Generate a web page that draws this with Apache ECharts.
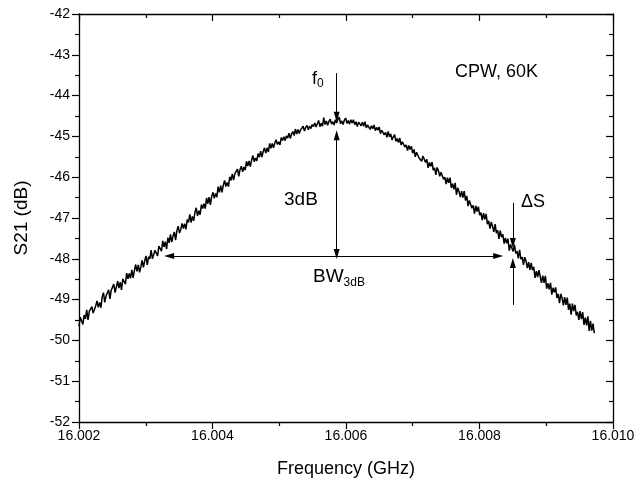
<!DOCTYPE html>
<html>
<head>
<meta charset="utf-8">
<script src="https://cdn.jsdelivr.net/npm/echarts@6/dist/echarts.min.js"></script>
<style>
  html, body { margin: 0; padding: 0; background: #fff; }
  #chart { width: 639px; height: 487px; }
</style>
</head>
<body>
<div id="chart"></div>
<script>
// Frequency sweep (GHz): linear instrument sweep
const sweepStart = 16.002;
const sweepStep = 0.0000193;

const s21 = [
  -49.65,-49.43,-49.52,-49.61,-49.38,-49.47,-49.25,-49.50,-49.29,-49.33,
  -49.17,-49.33,-49.37,-49.15,-49.03,-49.19,-49.07,-49.20,-48.94,-48.83,
  -49.07,-48.91,-48.95,-48.76,-48.98,-48.77,-48.81,-48.62,-48.83,-48.69,
  -48.55,-48.72,-48.57,-48.76,-48.49,-48.53,-48.62,-48.35,-48.49,-48.36,
  -48.48,-48.27,-48.47,-48.29,-48.14,-48.31,-48.15,-48.33,-48.20,-48.04,
  -48.21,-48.05,-47.93,-48.15,-47.95,-48.00,-47.79,-48.00,-48.03,-47.79,
  -47.81,-47.93,-47.69,-47.75,-47.81,-47.56,-47.71,-47.58,-47.76,-47.48,
  -47.61,-47.40,-47.59,-47.44,-47.34,-47.54,-47.31,-47.20,-47.37,-47.28,
  -47.13,-47.26,-47.14,-47.28,-47.04,-47.11,-46.91,-47.11,-46.96,-47.07,
  -46.86,-46.75,-46.95,-46.82,-46.92,-46.67,-46.77,-46.65,-46.77,-46.51,
  -46.65,-46.49,-46.68,-46.47,-46.37,-46.52,-46.40,-46.49,-46.23,-46.37,
  -46.21,-46.37,-46.20,-46.08,-46.23,-46.13,-46.23,-45.99,-46.08,-45.92,
  -46.07,-45.91,-45.95,-45.80,-45.98,-45.81,-45.73,-45.87,-45.75,-45.83,
  -45.61,-45.73,-45.60,-45.74,-45.58,-45.47,-45.62,-45.53,-45.60,-45.42,
  -45.51,-45.36,-45.51,-45.37,-45.28,-45.41,-45.28,-45.38,-45.17,-45.29,
  -45.17,-45.28,-45.16,-45.08,-45.20,-45.13,-45.21,-45.03,-45.10,-45.01,
  -45.10,-44.99,-45.04,-44.92,-45.05,-44.94,-44.88,-44.98,-44.82,-44.94,
  -44.83,-44.93,-44.84,-44.88,-44.75,-44.87,-44.78,-44.73,-44.84,-44.75,
  -44.81,-44.71,-44.76,-44.67,-44.77,-44.69,-44.61,-44.76,-44.68,-44.75,
  -44.54,-44.71,-44.62,-44.73,-44.63,-44.58,-44.70,-44.64,-44.72,-44.59,
  -44.67,-44.58,-44.53,-44.69,-44.62,-44.71,-44.60,-44.55,-44.68,-44.61,
  -44.70,-44.59,-44.67,-44.59,-44.71,-44.64,-44.76,-44.65,-44.63,-44.74,
  -44.65,-44.75,-44.64,-44.79,-44.72,-44.69,-44.83,-44.74,-44.81,-44.72,
  -44.86,-44.78,-44.85,-44.77,-44.93,-44.85,-44.83,-44.96,-44.90,-45.02,
  -44.88,-45.01,-44.94,-45.09,-45.01,-44.96,-45.12,-45.05,-45.15,-45.04,
  -45.21,-45.13,-45.09,-45.26,-45.21,-45.35,-45.22,-45.32,-45.24,-45.41,
  -45.32,-45.50,-45.39,-45.36,-45.53,-45.49,-45.61,-45.48,-45.45,-45.64,
  -45.56,-45.77,-45.64,-45.73,-45.63,-45.83,-45.77,-45.94,-45.76,-45.84,
  -45.98,-45.88,-45.85,-46.05,-46.00,-46.17,-46.01,-46.14,-46.01,-46.26,
  -46.16,-46.30,-46.14,-46.43,-46.26,-46.35,-46.49,-46.34,-46.50,-46.34,
  -46.57,-46.46,-46.71,-46.57,-46.53,-46.76,-46.69,-46.89,-46.70,-46.84,
  -46.72,-46.93,-46.87,-47.05,-46.88,-47.03,-46.90,-47.15,-47.07,-47.26,
  -47.10,-47.20,-47.34,-47.15,-47.37,-47.30,-47.51,-47.31,-47.47,-47.40,
  -47.63,-47.49,-47.62,-47.51,-47.80,-47.65,-47.62,-47.82,-47.65,-47.87,
  -47.81,-47.99,-47.78,-48.01,-47.96,-48.15,-47.96,-48.05,-48.23,-48.08,
  -48.27,-48.10,-48.28,-48.20,-48.47,-48.30,-48.45,-48.28,-48.43,-48.59,
  -48.41,-48.59,-48.42,-48.73,-48.60,-48.75,-48.59,-48.88,-48.71,-48.82,
  -48.70,-48.96,-48.86,-49.09,-48.86,-48.96,-49.14,-48.94,-49.13,-48.95,
  -49.25,-49.10,-49.37,-49.10,-49.28,-49.13,-49.39,-49.30,-49.50,-49.28,
  -49.48,-49.31,-49.62,-49.44,-49.63,-49.41,-49.77,-49.52,-49.76,-49.59,
  -49.82
];

// Axis ranges / ticks
const xMin = 16.002, xMax = 16.010, xInterval = 0.002;
const yMin = -52, yMax = -42, yInterval = 1;

// Annotation geometry in data coordinates
const f0Freq = 16.00586;
const f0Arrow = [-43.45, -44.52];
const dB3Arrow = [-44.97, -47.88];
const bwLevel = -47.93;
const bwRange = [16.00335, 16.00828];
const dSFreq = 16.0085;
const dSDown = [-46.63, -47.61];
const dSUp = [-49.13, -48.10];

const seriesData = s21.map((v, i) => [+(sweepStart + i * sweepStep).toFixed(7), v]);

const chart = echarts.init(document.getElementById('chart'), null, { renderer: 'canvas' });
const FONT = '"Liberation Sans", Arial, sans-serif';
const axisLine = { show: true, lineStyle: { color: '#000', width: 1.3 } };

function arrowLine(x1, y1, x2, y2) {
  return [{ coord: [x1, y1], symbol: 'none' }, { coord: [x2, y2], symbol: 'triangle', symbolSize: [6, 10] }];
}

const tickStyle = { color: '#000', width: 1.2 };

const option = {
  animation: false,
  backgroundColor: '#fff',
  grid: { left: 79, right: 26, top: 14, bottom: 65, containLabel: false },
  xAxis: [
    {
      type: 'value', min: xMin, max: xMax, interval: xInterval,
      axisLine: axisLine,
      axisTick: { show: true, inside: false, length: 7, lineStyle: tickStyle },
      minorTick: { show: true, splitNumber: 2, length: 4, lineStyle: tickStyle },
      splitLine: { show: false },
      axisLabel: { color: '#000', fontFamily: FONT, fontSize: 14, margin: 7, formatter: v => v.toFixed(3) },
      name: 'Frequency (GHz)', nameLocation: 'middle', nameGap: 38,
      nameTextStyle: { color: '#000', fontFamily: FONT, fontSize: 18 }
    },
    {
      type: 'value', min: xMin, max: xMax, interval: xInterval, position: 'top',
      axisLine: axisLine,
      axisTick: { show: true, inside: true, length: 7, lineStyle: tickStyle },
      minorTick: { show: true, splitNumber: 2, length: 4, lineStyle: tickStyle },
      splitLine: { show: false }, axisLabel: { show: false }
    }
  ],
  yAxis: [
    {
      type: 'value', min: yMin, max: yMax, interval: yInterval,
      axisLine: axisLine,
      axisTick: { show: true, inside: false, length: 7, lineStyle: tickStyle },
      minorTick: { show: true, splitNumber: 2, length: 4, lineStyle: tickStyle },
      splitLine: { show: false },
      axisLabel: { color: '#000', fontFamily: FONT, fontSize: 14, margin: 9 },
      name: 'S21 (dB)', nameLocation: 'middle', nameGap: 48, nameRotate: 90,
      nameTextStyle: { color: '#000', fontFamily: FONT, fontSize: 19 }
    },
    {
      type: 'value', min: yMin, max: yMax, interval: yInterval, position: 'right',
      axisLine: axisLine,
      axisTick: { show: true, inside: true, length: 7, lineStyle: tickStyle },
      minorTick: { show: true, splitNumber: 2, length: 4, lineStyle: tickStyle },
      splitLine: { show: false }, axisLabel: { show: false }
    }
  ],
  series: [
    {
      type: 'line', data: seriesData, showSymbol: false, symbol: 'none',
      lineStyle: { color: '#000', width: 1.5 },
      markLine: {
        silent: true, animation: false,
        symbol: ['none', 'triangle'], symbolSize: [6, 10],
        label: { show: false },
        lineStyle: { color: '#000', width: 1, type: 'solid' },
        data: [
          arrowLine(f0Freq, f0Arrow[0], f0Freq, f0Arrow[1]),
          arrowLine(f0Freq, dB3Arrow[1], f0Freq, dB3Arrow[0]),
          arrowLine(f0Freq, dB3Arrow[0], f0Freq, dB3Arrow[1]),
          arrowLine(bwRange[1], bwLevel, bwRange[0], bwLevel),
          arrowLine(bwRange[0], bwLevel, bwRange[1], bwLevel),
          arrowLine(dSFreq, dSDown[0], dSFreq, dSDown[1]),
          arrowLine(dSFreq, dSUp[0], dSFreq, dSUp[1])
        ]
      }
    }
  ],
  graphic: [
    { type: 'text', left: 312, top: 70, style: { text: '{a|f}{s|0}', rich: { a: { fontFamily: FONT, fontSize: 18, fill: '#000' }, s: { fontFamily: FONT, fontSize: 12, fill: '#000', padding: [10, 0, 0, 0] } } } },
    { type: 'text', left: 284, top: 190, style: { text: '3dB', fontFamily: FONT, fontSize: 19, fill: '#000' } },
    { type: 'text', left: 313, top: 267, style: { text: '{a|BW}{s|3dB}', rich: { a: { fontFamily: FONT, fontSize: 19, fill: '#000' }, s: { fontFamily: FONT, fontSize: 12, fill: '#000', padding: [12, 0, 0, 0] } } } },
    { type: 'text', left: 521, top: 193, style: { text: 'ΔS', fontFamily: FONT, fontSize: 18, fill: '#000' } },
    { type: 'text', left: 455, top: 63, style: { text: 'CPW, 60K', fontFamily: FONT, fontSize: 18, fill: '#000' } }
  ]
};
chart.setOption(option);
</script>
</body>
</html>
